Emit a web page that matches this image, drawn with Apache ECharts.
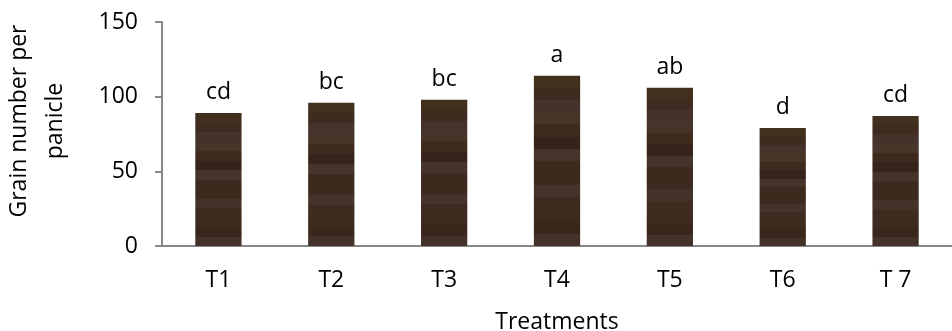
<!DOCTYPE html>
<html>
<head>
<meta charset="utf-8">
<script src="https://cdn.jsdelivr.net/npm/echarts@6/dist/echarts.min.js"></script>
<style>
  html, body { margin: 0; padding: 0; background: #fff; }
  #chart { width: 952px; height: 331px; }
</style>
</head>
<body>
<div id="chart"></div>
<script>
// data
const treatments = ['T1', 'T2', 'T3', 'T4', 'T5', 'T6', 'T 7'];
const grainNumber = [89, 96, 98, 114, 106, 79, 87];
const letters = ['cd', 'bc', 'bc', 'a', 'ab', 'd', 'cd'];
const yTicks = [0, 50, 100, 150];

const font = '"Open Sans", "Liberation Sans", sans-serif';

// striped brown fill, like the wood texture in the picture
const stripes = ['#42301f', '#3f2b1f', '#45322a', '#47352a', '#3f2b1e', '#36241a',
  '#46342a', '#3c2a1f', '#3d2a1e', '#45332a', '#3f2c20', '#3e2b1f', '#39271b', '#43312a'];
const stops = [];
stripes.forEach((c, i) => {
  stops.push({ offset: i / stripes.length, color: c });
  stops.push({ offset: (i + 1) / stripes.length, color: c });
});

const chart = echarts.init(document.getElementById('chart'));
chart.setOption({
  animation: false,
  grid: {
    left: 162,
    right: 0,
    top: 22,
    bottom: 85,
    outerBoundsMode: 'none'
  },
  graphic: [{
    type: 'text',
    x: 37,
    y: 121,
    rotation: Math.PI / 2,
    style: {
      text: 'Grain number per\npanicle',
      font: '23px ' + font,
      fill: '#000',
      align: 'center',
      verticalAlign: 'middle',
      lineHeight: 36
    }
  }],
  xAxis: {
    type: 'category',
    data: treatments,
    name: 'Treatments',
    nameLocation: 'middle',
    nameGap: 65,
    nameTextStyle: { fontFamily: font, fontSize: 23, color: '#000' },
    axisLine: { lineStyle: { color: '#888', width: 2 } },
    axisTick: { length: 7, lineStyle: { color: '#888', width: 2 } },
    axisLabel: { fontFamily: font, fontSize: 23, color: '#000', margin: 23 }
  },
  yAxis: {
    type: 'value',
    min: yTicks[0],
    max: yTicks[yTicks.length - 1],
    interval: 50,
    splitLine: { show: false },
    axisLine: { show: true, lineStyle: { color: '#888', width: 2 } },
    axisTick: { show: true, length: 7, lineStyle: { color: '#888', width: 2 } },
    axisLabel: { fontFamily: font, fontSize: 23, color: '#000', margin: 24 }
  },
  series: [{
    type: 'bar',
    data: grainNumber,
    barWidth: '41%',
    itemStyle: {
      color: new echarts.graphic.LinearGradient(0, 0, 0, 1, stops)
    },
    label: {
      show: true,
      position: 'top',
      distance: 9,
      fontFamily: font,
      fontSize: 23,
      color: '#000',
      formatter: p => letters[p.dataIndex]
    }
  }]
});
</script>
</body>
</html>
